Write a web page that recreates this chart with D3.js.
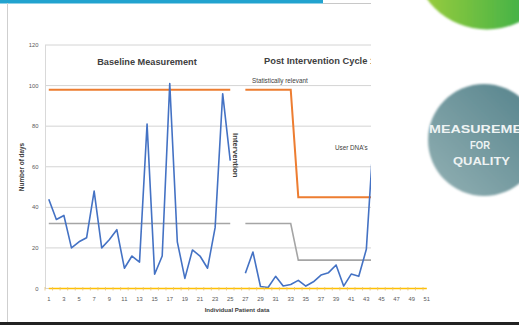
<!DOCTYPE html>
<html><head><meta charset="utf-8">
<script src="https://cdn.jsdelivr.net/npm/d3@7"></script>
<style>body{margin:0;background:#fff;}svg{display:block;}</style>
</head><body>
<script>
const categories = [1,2,3,4,5,6,7,8,9,10,11,12,13,14,15,16,17,18,19,20,21,22,23,24,25,26,27,28,29,30,31,32,33,34,35,36,37,38,39,40,41,42,43,44,45,46,47,48,49,50,51];
const tickLabels = [1,3,5,7,9,11,13,15,17,19,21,23,25,27,29,31,33,35,37,39,41,43,45,47,49,51];
const yTicks = [0,20,40,60,80,100,120];
const daysValues = [44,34,36,20,23,25,48,20,24,29,10,16,13,81,7,16,101,23,5,19,16,10,30,96,63,null,7.5,18,1,0.5,6,1.2,2,4,1.2,3.3,6.6,7.8,11.6,1.2,7.1,6,19.3,78,null,null,null,null,null,null,null];
const relevantValues = [98,98,98,98,98,98,98,98,98,98,98,98,98,98,98,98,98,98,98,98,98,98,98,98,98,null,98,98,98,98,98,98,98,45,45,45,45,45,45,45,45,45,45,45,45,45,45,45,45,45,45];
const limitValues = [32,32,32,32,32,32,32,32,32,32,32,32,32,32,32,32,32,32,32,32,32,32,32,32,32,null,32,32,32,32,32,32,32,14,14,14,14,14,14,14,14,14,14,14,14,14,14,14,14,14,14];
const zeroValues = [0,0,0,0,0,0,0,0,0,0,0,0,0,0,0,0,0,0,0,0,0,0,0,0,0,0,0,0,0,0,0,0,0,0,0,0,0,0,0,0,0,0,0,0,0,0,0,0,0,0,0];

const W = 519, H = 325;
const svg = d3.select("body").append("svg").attr("width", W).attr("height", H);
const defs = svg.append("defs");
defs.append("clipPath").attr("id","cl").append("rect").attr("x",0).attr("y",0).attr("width",371).attr("height",H);
const gg = defs.append("linearGradient").attr("id","gGreen").attr("x1","0").attr("y1","0").attr("x2","1").attr("y2","0");
gg.append("stop").attr("offset","0").attr("stop-color","#a3cf3c");
gg.append("stop").attr("offset","1").attr("stop-color","#22a84a");
const gt = defs.append("linearGradient").attr("id","gTeal").attr("x1","1").attr("y1","0").attr("x2","0").attr("y2","1");
gt.append("stop").attr("offset","0").attr("stop-color","#53818a");
gt.append("stop").attr("offset","1").attr("stop-color","#93b1b4");
defs.append("filter").attr("id","soft").append("feGaussianBlur").attr("stdDeviation",0.8);

svg.append("rect").attr("x",0).attr("y",0).attr("width",323).attr("height",3.5).attr("fill","#22a3cf");
svg.append("line").attr("x1",323).attr("x2",371).attr("y1",3.5).attr("y2",3.5).attr("stroke","#c8c8c8").attr("stroke-width",1);
svg.append("line").attr("x1",7.5).attr("x2",7.5).attr("y1",3).attr("y2",322).attr("stroke","#cfcfcf").attr("stroke-width",1);
svg.append("rect").attr("x",0).attr("y",322).attr("width",W).attr("height",3).attr("fill","#222");

const x = d3.scalePoint().domain(categories).range([45, 430.6]).padding(0.5);
const y = d3.scaleLinear().domain([0,120]).range([288.5, 45]);

const chart = svg.append("g").attr("clip-path","url(#cl)");
chart.selectAll("line.grid").data(yTicks).join("line")
  .attr("x1",45).attr("x2",430.6).attr("y1",d=>y(d)).attr("y2",d=>y(d))
  .attr("stroke","#d4d4d4").attr("stroke-width",1);
chart.append("line").attr("x1",45.5).attr("x2",45.5).attr("y1",y(120)).attr("y2",y(0)).attr("stroke","#d9d9d9");

const line = d3.line().defined(d=>d.v!=null).x(d=>x(d.c)).y(d=>y(d.v));
const mk = vals => categories.map((c,i)=>({c, v: vals[i]}));

chart.append("path").datum(mk(limitValues)).attr("d",line).attr("fill","none").attr("stroke","#a5a5a5").attr("stroke-width",1.6);
chart.append("path").datum(mk(relevantValues)).attr("d",line).attr("fill","none").attr("stroke","#ed7d31").attr("stroke-width",2);
chart.append("path").datum(mk(daysValues)).attr("d",line).attr("fill","none").attr("stroke","#4472c4").attr("stroke-width",1.6).attr("stroke-linejoin","round");

const F = "Liberation Sans, Arial";
chart.append("text").attr("x",147).attr("y",65).attr("text-anchor","middle")
  .attr("font-family",F).attr("font-weight","bold").attr("font-size",9.2).attr("fill","#404040")
  .text("Baseline Measurement");
chart.append("text").attr("x",264).attr("y",64)
  .attr("font-family",F).attr("font-weight","bold").attr("font-size",9.3).attr("fill","#404040")
  .text("Post Intervention Cycle 1");
chart.append("text").attr("x",252).attr("y",82.5)
  .attr("font-family",F).attr("font-size",6.3).attr("fill","#404040")
  .text("Statistically relevant");
chart.append("text").attr("x",335).attr("y",150)
  .attr("font-family",F).attr("font-size",6.3).attr("fill","#404040")
  .text("User DNA's");
chart.append("text").attr("transform","translate(233,133) rotate(90)")
  .attr("font-family",F).attr("font-weight","bold").attr("font-size",7.8).attr("fill","#404040")
  .text("Intervention");

svg.append("path").datum(mk(zeroValues)).attr("d",line).attr("fill","none").attr("stroke","#ffc000").attr("stroke-width",1.5);
svg.selectAll("line.tk").data(categories).join("line")
  .attr("x1",d=>x(d)-x.step()/2).attr("x2",d=>x(d)-x.step()/2).attr("y1",y(0)-1.5).attr("y2",y(0)+2)
  .attr("stroke","#e8c070").attr("stroke-width",0.8);

svg.selectAll("text.yl").data(yTicks).join("text")
  .attr("x",38.5).attr("y",d=>y(d)+2).attr("text-anchor","end")
  .attr("font-family",F).attr("font-size",5.8).attr("fill","#595959").text(d=>d);
svg.selectAll("text.xl").data(tickLabels).join("text")
  .attr("x",d=>x(d)).attr("y",301).attr("text-anchor","middle")
  .attr("font-family",F).attr("font-size",5.8).attr("fill","#595959").text(d=>d);
svg.append("text").attr("x",237).attr("y",311.5).attr("text-anchor","middle")
  .attr("font-family",F).attr("font-weight","bold").attr("font-size",6.1).attr("fill","#404040")
  .text("Individual Patient data");
svg.append("text").attr("transform","translate(23.5,167) rotate(-90)").attr("text-anchor","middle")
  .attr("font-family",F).attr("font-weight","bold").attr("font-size",6.4).attr("fill","#404040")
  .text("Number of days");

svg.append("circle").attr("cx",487).attr("cy",-45).attr("r",74.5).attr("fill","url(#gGreen)").attr("filter","url(#soft)");
svg.append("circle").attr("cx",484).attr("cy",140).attr("r",56).attr("fill","url(#gTeal)").attr("filter","url(#soft)");
const ct = [["MEASUREMENT",429,133,112],["FOR",470,148.5,20],["QUALITY",453,165,57]];
svg.selectAll("text.ct").data(ct).join("text")
  .attr("x",d=>d[1]).attr("y",d=>d[2])
  .attr("textLength",d=>d[3]).attr("lengthAdjust","spacingAndGlyphs")
  .attr("font-family",F).attr("font-weight","bold").attr("font-size",10.5).attr("fill","#eef3f3")
  .text(d=>d[0]);
</script>
</body></html>
